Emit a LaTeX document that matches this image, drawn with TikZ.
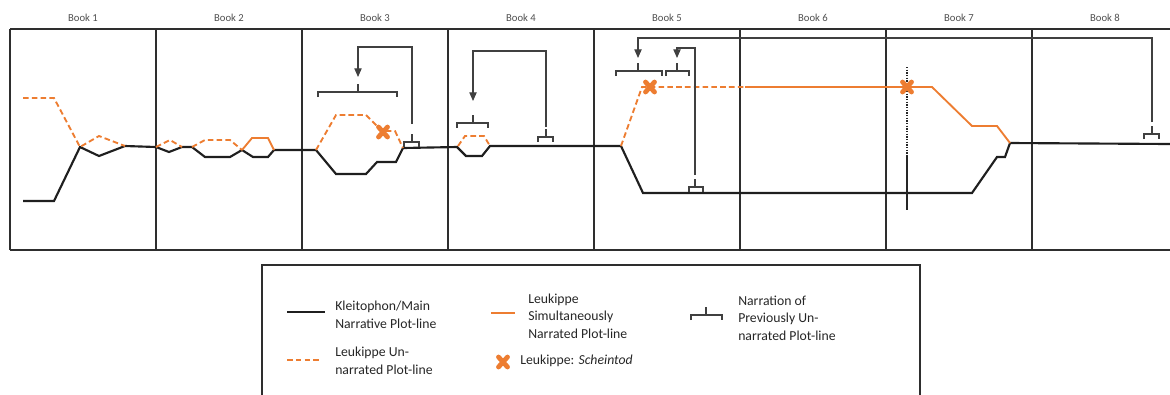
\documentclass[tikz,border=0pt]{standalone}
\usepackage{fontspec}
\setmainfont{Carlito}
\usetikzlibrary{arrows.meta}
\definecolor{plotorange}{HTML}{ED7D31}
\definecolor{framegray}{HTML}{2E2E2E}
\definecolor{booktext}{HTML}{505050}

% narration bracket: left x, right x, y of bar, x of centre tick
\newcommand\narrbrace[4]{%
  \draw[brk] (#1,#3+5) -- (#1,#3) -- (#2,#3) -- (#2,#3+5);
  \draw[brk] (#4,#3) -- (#4,#3-8);}
% Scheintod marker
\newcommand\deathmark[2]{%
  \draw[xmark,shift={(#1,#2)}] (-4.5,-5) -- (4.5,5) (-4.5,5) -- (4.5,-5);}

\begin{document}
\begin{tikzpicture}[x=0.75pt,y=-0.75pt,
  frame/.style={draw=framegray,line width=1.5pt},
  mainline/.style={draw=black!88,line width=1.6pt},
  hidden/.style={draw=plotorange,line width=1.4pt,dash pattern=on 4.2pt off 2.4pt},
  simul/.style={draw=plotorange,line width=1.4pt},
  brk/.style={draw=black!75,line width=0.8pt},
  jump/.style={brk,-{Triangle[width=5.5pt,length=6.5pt]}},
  xmark/.style={draw=plotorange,line width=3.6pt,line cap=round},
  booklabel/.style={font=\fontsize{8}{10}\selectfont,text=booktext,inner sep=0pt},
  legtext/.style={font=\fontsize{10.3}{13.1}\selectfont,align=left,anchor=west,inner sep=0pt,text=black!85}]
\useasboundingbox (0,0) rectangle (1170,394);

% ---------- frame and book columns ----------
\draw[frame] (10,29) -- (1170,29);
\draw[frame,line width=2.1pt] (10,250) -- (1170,250);
\foreach \x in {10,156,302,448,594,740,886,1032}
  \draw[frame] (\x,29) -- (\x,250);
\foreach \n/\x in {1/83,2/229,3/375,4/521,5/667,6/813,7/959,8/1105}
  \node[booklabel] (book\n) at (\x,18) {Book \n};

% ---------- Kleitophon / main plot-line ----------
\draw[mainline] (23,201) -- (54,201) -- (80,147) -- (99,156) -- (125,146)
  -- (156,147) -- (169,152) -- (182,147) -- (192,147) -- (205,157)
  -- (230,157) -- (242,150) -- (253,157) -- (268,157) -- (274,150)
  -- (316,150) -- (336,174) -- (366,174) -- (377,162) -- (396,162)
  -- (403,148) -- (457,147) -- (466,156) -- (482,156) -- (490,146)
  -- (621,146) -- (643,193) -- (972,193) -- (997,157) -- (1005,157)
  -- (1010,143) -- (1170,144);

% ---------- Leukippe, unnarrated ----------
\draw[hidden] (23,98) -- (54,98) -- (80,147) -- (99,136) -- (125,146);
\draw[hidden] (156,147) -- (170,140) -- (182,147);
\draw[hidden] (192,147) -- (205,140) -- (230,140) -- (242,150);
\draw[hidden] (316,150) -- (336,115) -- (366,115) -- (382,131)
  -- (395,131) -- (403,148);
\draw[hidden] (458,146) -- (465,136) -- (484,136) -- (490,146);
\draw[hidden] (621,146) -- (642,87) -- (745,87);

% ---------- Leukippe, simultaneously narrated ----------
\draw[simul] (242,150) -- (252,138) -- (268,138) -- (274,150);
\draw[simul] (745,87) -- (932,87) -- (972,126) -- (997,126) -- (1010,143);

% ---------- Book 7 marker line ----------
\draw[black!85,line width=1.4pt,dash pattern=on 1pt off 1pt] (907,67) -- (907,155);
\draw[black!85,line width=1.6pt] (907,155) -- (907,210);

% ---------- Scheintod ----------
\deathmark{383}{132}
\deathmark{650}{87}
\deathmark{907}{87}

% ---------- narration brackets ----------
\narrbrace{318}{397}{92}{358}
\narrbrace{404}{419}{142}{412}
\narrbrace{457}{488}{123}{473}
\narrbrace{538}{553}{137}{546}
\narrbrace{616}{662}{71}{638}
\narrbrace{666}{689}{71}{677}
\narrbrace{689}{703}{187}{695}
\narrbrace{1144}{1159}{134}{1152}

% ---------- jumps back in the narration ----------
\coordinate (src3) at (412,124);  \coordinate (hop3) at (358,47);  \coordinate (tgt3) at (358,77);
\coordinate (src4) at (546,127);  \coordinate (hop4) at (473,51);  \coordinate (tgt4) at (473,101);
\coordinate (src5) at (695,175);  \coordinate (hop5) at (677,48);  \coordinate (tgt5) at (677,58);
\coordinate (src8) at (1152,122); \coordinate (hop8) at (638,38);  \coordinate (tgt8) at (638,58);
\draw[jump] (src3) |- (hop3) -- (tgt3);
\draw[jump] (src4) |- (hop4) -- (tgt4);
\draw[jump] (src5) |- (hop5) -- (tgt5);
\draw[jump] (src8) |- (hop8) -- (tgt8);

% ---------- legend ----------
\draw[frame] (262,396) -- (262,265) -- (920,265) -- (920,396);
\draw[mainline] (287,312) -- (325,312);
\node[legtext] (legmain) at (335,315) {Kleitophon/Main\\Narrative Plot-line};
\draw[hidden] (287,360) -- (322,360);
\node[legtext] (leghid) at (335,361) {Leukippe Un-\\narrated Plot-line};
\draw[simul] (491,313) -- (515,313);
\node[legtext] (legsim) at (528,316) {Leukippe\\Simultaneously\\Narrated Plot-line};
\deathmark{503}{362}
\node[legtext] (legdeath) at (520,361) {Leukippe: \textit{Scheintod}};
\narrbrace{691}{722}{315}{706}
\node[legtext] (legnarr) at (738,318) {Narration of\\Previously Un-\\narrated Plot-line};
\end{tikzpicture}
\end{document}
